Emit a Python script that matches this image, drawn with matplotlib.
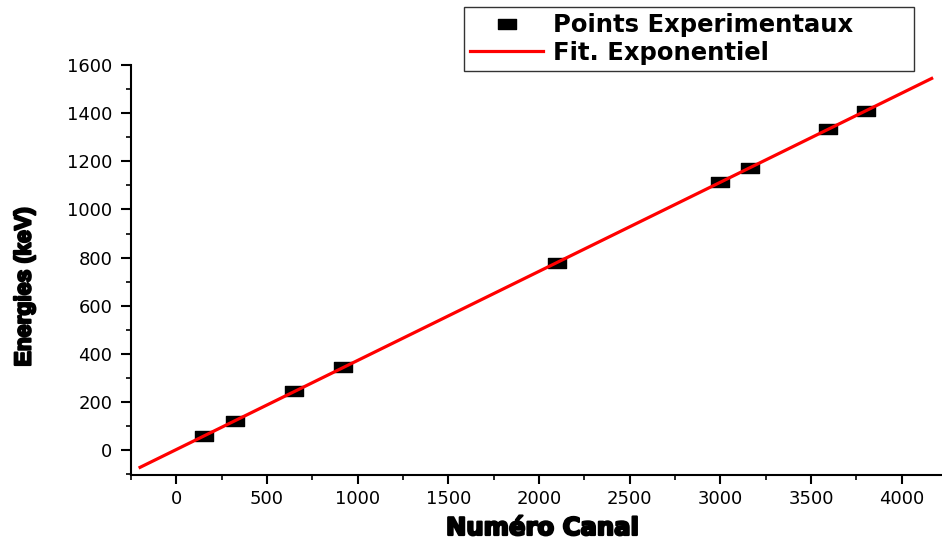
import numpy as np
import matplotlib
matplotlib.use("Agg")
import matplotlib.pyplot as plt
from matplotlib.path import Path
from matplotlib.ticker import MultipleLocator
import matplotlib.patheffects as pe

# Calibration points: channel number vs gamma energy (keV)
canal = [154, 325, 651, 921, 2097, 2996, 3161, 3592, 3801]
energie = [59.5, 121.8, 244.7, 344.3, 778.9, 1112.1, 1173.2, 1332.5, 1408.0]

x_ticks = [0, 500, 1000, 1500, 2000, 2500, 3000, 3500, 4000]
y_ticks = [0, 200, 400, 600, 800, 1000, 1200, 1400, 1600]

fit_range = (-200, 4165)

plt.rcParams["font.family"] = ["DejaVu Sans"]

fig = plt.figure(figsize=(9.42, 5.4), dpi=100)
ax = fig.add_axes([131 / 942, 1 - 475 / 540, 1 - 131 / 942, (475 - 65) / 540])

# wide rectangular marker
rect = Path([(-1, -0.62), (1, -0.62), (1, 0.62), (-1, 0.62), (-1, -0.62)],
            [Path.MOVETO, Path.LINETO, Path.LINETO, Path.LINETO, Path.CLOSEPOLY])

coef = np.polyfit(canal, energie, 1)
xf = np.linspace(fit_range[0], fit_range[1], 200)
yf = np.polyval(coef, xf)

pts, = ax.plot(canal, energie, linestyle="none", marker=rect, markersize=12.5,
               color="black", markeredgecolor="black", zorder=2,
               label="Points Experimentaux")
fit, = ax.plot(xf, yf, color="red", linewidth=2.3, zorder=3,
               label="Fit. Exponentiel")

ax.set_xlim(-250, 4222)
ax.set_ylim(-103, 1600)
ax.set_xticks(x_ticks)
ax.set_yticks(y_ticks)
ax.xaxis.set_minor_locator(MultipleLocator(250))
ax.yaxis.set_minor_locator(MultipleLocator(100))

for s in ("top", "right"):
    ax.spines[s].set_visible(False)
for s in ("left", "bottom"):
    ax.spines[s].set_linewidth(1.5)
ax.tick_params(which="major", direction="out", length=6.5, width=1.5,
               labelsize=13, colors="black")
ax.tick_params(axis="y", which="major", length=7.5, pad=6)
ax.tick_params(axis="x", which="major", pad=4)
ax.tick_params(which="minor", direction="out", length=3.5, width=1.2)

heavy = [pe.withStroke(linewidth=1.6, foreground="black")]
fig.text(542 / 942, 1 - 528 / 540, "Numéro Canal", ha="center", va="center",
         fontsize=17.5, fontweight="bold", family=["DejaVu Sans"],
         path_effects=heavy)
fig.text(24 / 942, 1 - 287 / 540, "Energies (keV)", ha="center", va="center",
         rotation=90, fontsize=16.5, fontweight="bold",
         family=["Liberation Sans", "DejaVu Sans"], path_effects=heavy)

# legend box spans a fixed width above the plot
leg = fig.legend(handles=[pts, fit], loc="upper left", mode="expand",
                 bbox_to_anchor=(464 / 942, 1 - 70 / 540,
                                 (914 - 464) / 942, 63 / 540),
                 frameon=True, fancybox=False, edgecolor="black",
                 prop={"size": 17.5, "weight": "bold"},
                 handlelength=3.0, handletextpad=0.4, borderpad=0.25,
                 labelspacing=0.16, borderaxespad=0, markerscale=1.0)
leg.get_frame().set_linewidth(1.0)

fig.savefig("out.png", dpi=100)
